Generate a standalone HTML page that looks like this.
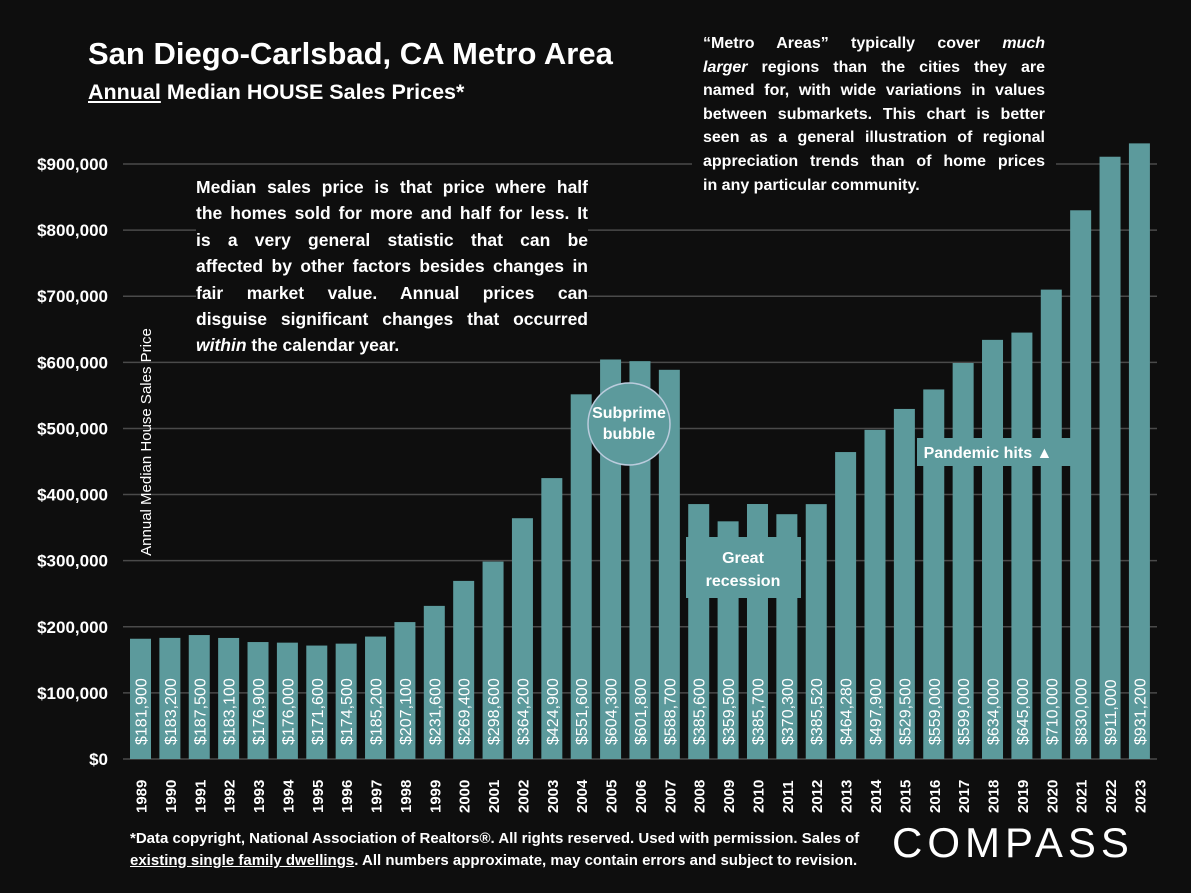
<!DOCTYPE html>
<html><head><meta charset="utf-8">
<style>
html,body{margin:0;padding:0;background:#0e0e0e;}
body{width:1191px;height:893px;overflow:hidden;position:relative;font-family:"Liberation Sans",sans-serif;color:#fff;}
.t{position:absolute;}
.j div{text-align:justify;text-align-last:justify;white-space:nowrap;}
.j div.l{text-align-last:left;}
</style></head>
<body>
<div class="t" style="left:88px;top:36px;font-size:31px;font-weight:bold;">San Diego-Carlsbad, CA Metro Area</div>
<div class="t" style="left:88px;top:80px;font-size:21.5px;font-weight:bold;"><span style="text-decoration:underline">Annual</span> Median HOUSE Sales Prices*</div>
<svg id="chart" width="1191" height="893" style="position:absolute;left:0;top:0;"></svg>
<div class="t j" style="left:692px;top:32px;width:342px;padding:0 11px 4px 11px;font-size:16px;font-weight:bold;line-height:23.6px;background:#0e0e0e;">
<div>“Metro Areas” typically cover <i>much</i></div>
<div><i>larger</i> regions than the cities they are</div>
<div>named for, with wide variations in values</div>
<div>between submarkets. This chart is better</div>
<div>seen as a general illustration of regional</div>
<div>appreciation trends than of home prices</div>
<div class="l">in any particular community.</div>
</div>
<div class="t j" style="left:196px;top:174px;width:392px;font-size:17.5px;font-weight:bold;line-height:26.4px;background:#0e0e0e;">
<div>Median sales price is that price where half</div>
<div>the homes sold for more and half for less. It</div>
<div>is a very general statistic that can be</div>
<div>affected by other factors besides changes in</div>
<div>fair market value. Annual prices can</div>
<div>disguise significant changes that occurred</div>
<div class="l"><i>within</i> the calendar year.</div>
</div>
<div class="t" style="left:130px;top:828px;font-size:15px;font-weight:bold;line-height:22px;white-space:nowrap;">*Data copyright, National Association of Realtors®. All rights reserved. Used with permission. Sales of<br><span style="text-decoration:underline">existing single family dwellings</span>. All numbers approximate, may contain errors and subject to revision.</div>
<div class="t" style="left:892px;top:819px;font-size:42px;letter-spacing:5px;">COMPASS</div>
<script>
const years=['1989','1990','1991','1992','1993','1994','1995','1996','1997','1998','1999','2000','2001','2002','2003','2004','2005','2006','2007','2008','2009','2010','2011','2012','2013','2014','2015','2016','2017','2018','2019','2020','2021','2022','2023'];
const prices=[181900,183200,187500,183100,176900,176000,171600,174500,185200,207100,231600,269400,298600,364200,424900,551600,604300,601800,588700,385600,359500,385700,370300,385520,464280,497900,529500,559000,599000,634000,645000,710000,830000,911000,931200];
const yTicks=[0,100000,200000,300000,400000,500000,600000,700000,800000,900000];
const yTickLabels=['$0','$100,000','$200,000','$300,000','$400,000','$500,000','$600,000','$700,000','$800,000','$900,000'];
const NS='http://www.w3.org/2000/svg';
const svg=document.getElementById('chart');
const y0=759,pxPer=595/900000;
const Y=v=>y0-v*pxPer;
const X=i=>130+i*29.38;
const BW=21;
function mk(t,a,p){const e=document.createElementNS(NS,t);for(const k in a)e.setAttribute(k,a[k]);(p||svg).appendChild(e);return e;}
yTicks.forEach((v,i)=>{
 const l=mk('line',{x1:123,x2:1157,y1:Y(v),y2:Y(v),stroke:'#4a4a4a','stroke-width':1.5});
 
 
 const t=mk('text',{x:108,y:Y(v)+6,'text-anchor':'end','font-size':17,'font-weight':'bold',fill:'#fff'});
 t.textContent=yTickLabels[i];
 
 
});
prices.forEach((v,i)=>{
 const r=mk('rect',{x:X(i),y:Y(v),width:BW,height:y0-Y(v),fill:'#5c9a9c'});
 
 
 const cx=X(i)+BW/2+6;
 const vt=mk('text',{x:cx,y:745,transform:`rotate(-90 ${cx} 745)`,'font-size':16,fill:'#fff'});
 vt.textContent='$'+v.toLocaleString('en-US');
 
 
 const yt=mk('text',{x:cx,y:813,transform:`rotate(-90 ${cx} 813)`,'font-size':15,'font-weight':'bold',fill:'#fff'});
 yt.textContent=years[i];
 
 
});
const at=mk('text',{x:151,y:442,transform:'rotate(-90 151 442)','text-anchor':'middle','font-size':15,fill:'#fff'});
at.textContent='Annual Median House Sales Price';


const g1=mk('g',{});


mk('circle',{cx:629,cy:424,r:41,fill:'#5c9a9c',stroke:'#bcd','stroke-width':1.5},g1);
let t=mk('text',{x:629,y:418,'text-anchor':'middle','font-size':16,'font-weight':'bold',fill:'#fff'},g1);t.textContent='Subprime';
t=mk('text',{x:629,y:439,'text-anchor':'middle','font-size':16,'font-weight':'bold',fill:'#fff'},g1);t.textContent='bubble';
const g2=mk('g',{});


mk('rect',{x:686,y:537,width:115,height:61,fill:'#5c9a9c'},g2);
t=mk('text',{x:743,y:563,'text-anchor':'middle','font-size':16,'font-weight':'bold',fill:'#fff'},g2);t.textContent='Great';
t=mk('text',{x:743,y:586,'text-anchor':'middle','font-size':16,'font-weight':'bold',fill:'#fff'},g2);t.textContent='recession';
const g3=mk('g',{});


mk('rect',{x:917,y:438,width:156,height:28,fill:'#5c9a9c'},g3);
t=mk('text',{x:988,y:458,'text-anchor':'middle','font-size':16,'font-weight':'bold',fill:'#fff'},g3);t.textContent='Pandemic hits ▲';
</script>
</body></html>
